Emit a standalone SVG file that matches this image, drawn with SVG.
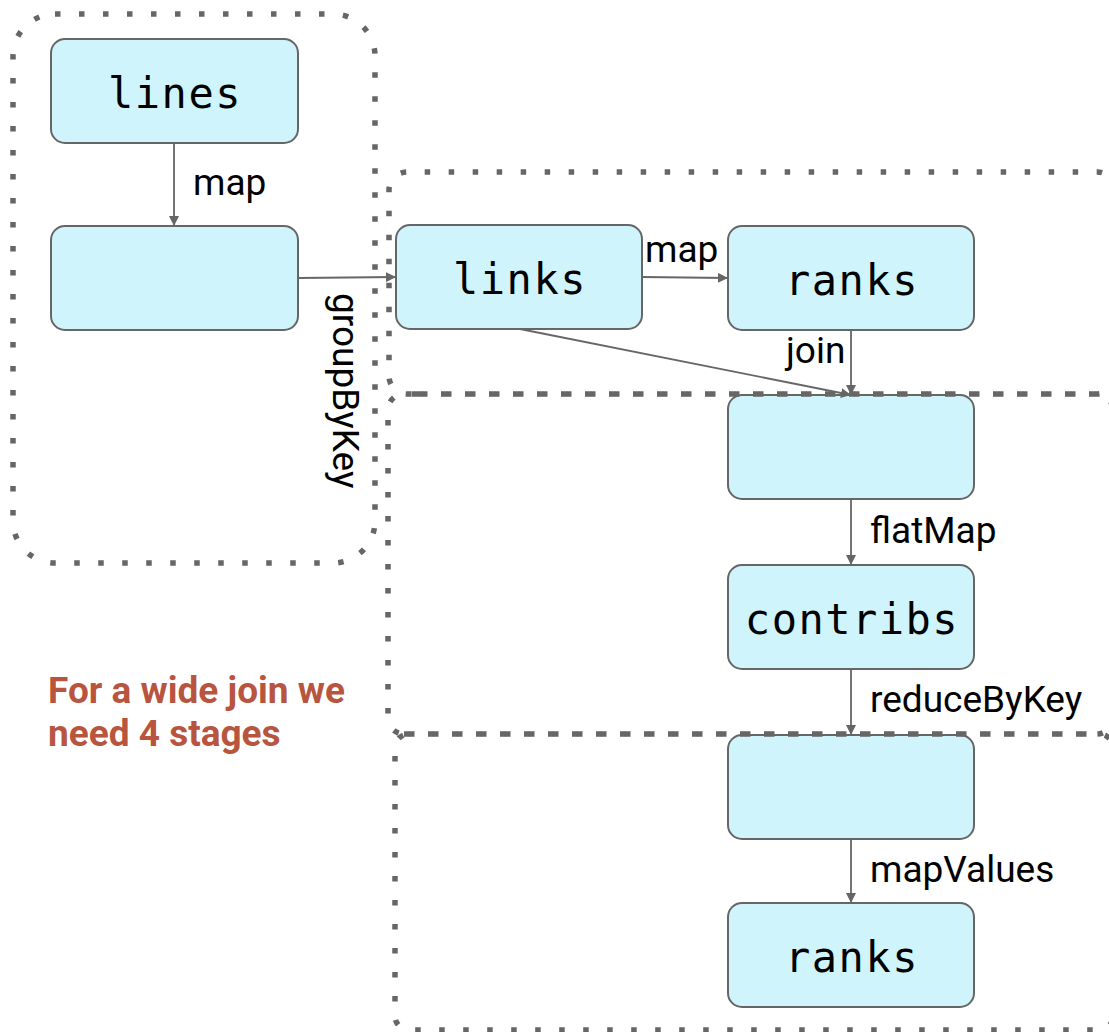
<svg xmlns="http://www.w3.org/2000/svg" width="1109" height="1032" viewBox="0 0 1109 1032">
  <defs>
    <marker id="arrow" markerUnits="userSpaceOnUse" markerWidth="11" markerHeight="10" refX="10" refY="5" orient="auto">
      <path d="M0,0 L10,5 L0,10 z" fill="#666666"/>
    </marker>
    <style>
      .node rect { fill: #cff4fc; stroke: #666666; stroke-width: 2; }
      .node text { font-family: "DejaVu Sans Mono", "Liberation Mono", monospace; font-size: 42px; letter-spacing: 1.5px; fill: #000000; text-anchor: middle; }
      .edge { stroke: #666666; stroke-width: 1.8; fill: none; marker-end: url(#arrow); }
      .elabel { font-family: Roboto, "Liberation Sans", sans-serif; font-size: 37px; fill: #000000; }
      .stage { fill: none; stroke: #666666; stroke-width: 5.5; stroke-dasharray: 5.5 18.5; }
      .note { font-family: Roboto, "Liberation Sans", sans-serif; font-size: 37px; font-weight: bold; fill: #b7553f; }
    </style>
  </defs>

  <!-- RDD nodes -->
  <g id="lines" class="node">
    <rect x="51" y="39" width="247" height="104" rx="14"/>
    <text x="175" y="108">lines</text>
  </g>
  <g id="grouped" class="node">
    <rect x="51" y="226" width="247" height="104" rx="14"/>
  </g>
  <g id="links" class="node">
    <rect x="396" y="225" width="246" height="104" rx="14"/>
    <text x="520" y="294">links</text>
  </g>
  <g id="ranks" class="node">
    <rect x="728" y="226" width="246" height="104" rx="14"/>
    <text x="852" y="295">ranks</text>
  </g>
  <g id="joined" class="node">
    <rect x="728" y="395" width="246" height="104" rx="14"/>
  </g>
  <g id="contribs" class="node">
    <rect x="728" y="565" width="246" height="104" rx="14"/>
    <text x="852" y="634">contribs</text>
  </g>
  <g id="reduced" class="node">
    <rect x="728" y="735" width="246" height="104" rx="14"/>
  </g>
  <g id="ranks-new" class="node">
    <rect x="728" y="903" width="246" height="104" rx="14"/>
    <text x="852" y="972">ranks</text>
  </g>

  <!-- transformations between RDDs -->
  <g id="connectors">
    <line class="edge" x1="174" y1="143" x2="174" y2="226"/>
    <line class="edge" x1="298" y1="278" x2="396" y2="277"/>
    <line class="edge" x1="642" y1="277" x2="728" y2="278"/>
    <line class="edge" x1="851" y1="330" x2="851" y2="395"/>
    <line class="edge" x1="520" y1="329" x2="851" y2="395"/>
    <line class="edge" x1="851" y1="499" x2="851" y2="565"/>
    <line class="edge" x1="851" y1="669" x2="851" y2="735"/>
    <line class="edge" x1="851" y1="839" x2="851" y2="903"/>
    <text class="elabel" x="193" y="195">map</text>
    <text class="elabel" x="645" y="262">map</text>
    <text class="elabel" x="786" y="363">join</text>
    <text class="elabel" x="870" y="543">flatMap</text>
    <text class="elabel" x="870" y="712">reduceByKey</text>
    <text class="elabel" x="870" y="882">mapValues</text>
    <text class="elabel" transform="translate(333,293) rotate(90)">groupByKey</text>
  </g>

  <!-- stage boundaries; shared edges are phased so their dots interleave -->
  <g id="stages">
    <rect class="stage" x="13" y="14" width="362" height="549" rx="42"/>
    <path class="stage" d="M422,394 H1097 A18,18 0 0 0 1115,376 V190 A18,18 0 0 0 1097,172 H407 A18,18 0 0 0 389,190 V376 A18,18 0 0 0 407,394 Z"/>
    <path class="stage" d="M417,394 H1097 A16,16 0 0 1 1113,410 V718 A16,16 0 0 1 1097,734 M404,734 H1097 M417,394 H404 A16,16 0 0 0 388,410 V718 A16,16 0 0 0 404,734"/>
    <path class="stage" d="M409,734 H1099 A14,14 0 0 1 1113,748 V1016 A14,14 0 0 1 1099,1030 H409 A14,14 0 0 1 395,1016 V748 A14,14 0 0 1 409,734 Z"/>
  </g>

  <g id="note">
    <text class="note" x="48" y="703">For a wide join we</text>
    <text class="note" x="48" y="746">need 4 stages</text>
  </g>
</svg>
